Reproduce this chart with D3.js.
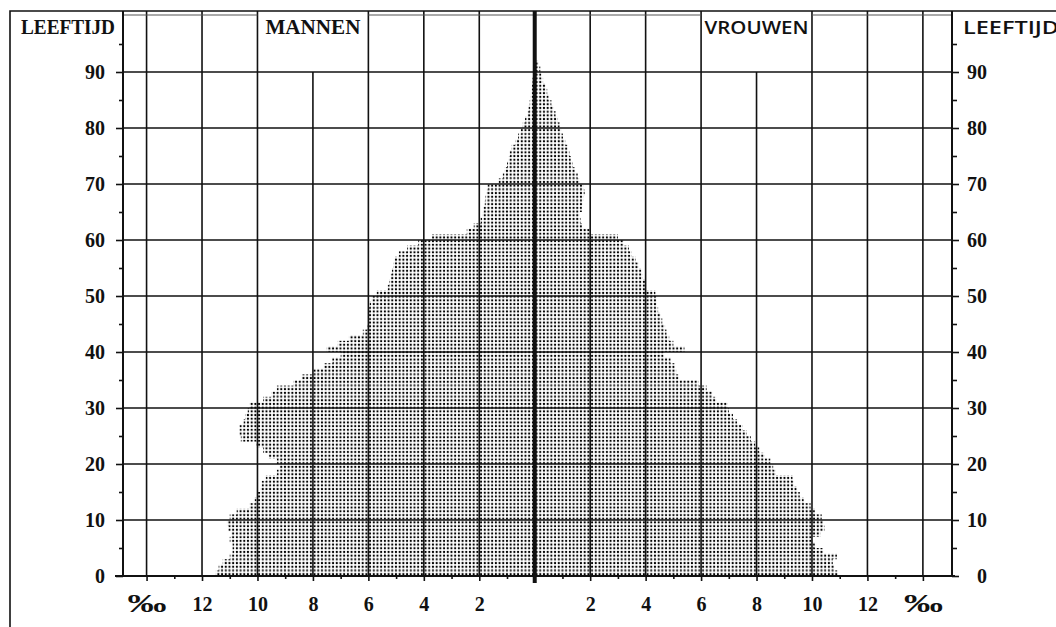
<!DOCTYPE html>
<html lang="nl">
<head>
<meta charset="utf-8">
<title>Leeftijdsopbouw mannen / vrouwen</title>
<script src="https://cdn.jsdelivr.net/npm/d3@7"></script>
<style>
  html, body { margin: 0; padding: 0; background: #fff; }
  svg { display: block; }
  .serif { font-family: "Liberation Serif", "DejaVu Serif", serif; font-weight: bold; fill: #111; }
  .sans { font-family: "Open Sans", "DejaVu Sans", sans-serif; font-weight: 600; fill: #111; }
</style>
</head>
<body>
<div id="chart"></div>
<script>
// Aandeel per leeftijdsjaar, in promille (index = leeftijd)
const MEN = [
    11.5, 11.4, 11.25, 11.0, 10.9, 10.9, 11.0, 10.95, 11.05, 11.1,
    11.0, 10.75, 10.3, 10.1, 10.0, 9.9, 9.85, 9.7, 9.3, 9.2,
    9.3, 9.6, 9.8, 10.05, 10.6, 10.65, 10.65, 10.5, 10.45, 10.35,
    10.3, 9.8, 9.5, 9.3, 8.7, 8.4, 8.0, 7.6, 7.3, 7.0,
    7.5, 7.1, 6.7, 6.2, 6.05, 6.0, 6.0, 6.0, 5.95, 5.9,
    5.7, 5.3, 5.25, 5.2, 5.15, 5.1, 5.05, 4.9, 4.6, 4.2,
    3.7, 2.45, 2.2, 1.95, 1.9, 1.85, 1.8, 1.78, 1.75, 1.7,
    1.3, 1.15, 1.08, 1.0, 0.95, 0.9, 0.83, 0.7, 0.6, 0.5,
    0.43, 0.35, 0.27, 0.22, 0.18, 0.15, 0.12, 0.1, 0.08, 0.06, 0.04
];
const WOMEN = [
    10.93, 10.8, 10.75, 10.9, 10.4, 10.1, 10.0, 10.3, 10.45, 10.4,
    10.35, 10.1, 9.95, 9.7, 9.56, 9.45, 9.35, 9.3, 8.7, 8.6,
    8.5, 8.3, 8.1, 7.95, 7.8, 7.65, 7.5, 7.3, 7.15, 7.0,
    6.97, 6.55, 6.4, 6.2, 5.9, 5.2, 5.1, 5.05, 4.9, 4.65,
    5.4, 5.0, 4.85, 4.75, 4.7, 4.6, 4.55, 4.45, 4.4, 4.4,
    4.35, 4.0, 4.0, 3.9, 3.85, 3.75, 3.65, 3.5, 3.4, 3.2,
    3.0, 2.0, 1.7, 1.65, 1.62, 1.7, 1.73, 1.75, 1.8, 1.75,
    1.62, 1.55, 1.45, 1.38, 1.3, 1.25, 1.2, 1.1, 1.02, 0.95,
    0.9, 0.84, 0.75, 0.68, 0.6, 0.5, 0.45, 0.4, 0.3, 0.24,
    0.2, 0.15
];

// Assen
const Y_TICKS = [0, 10, 20, 30, 40, 50, 60, 70, 80, 90];
const Y_MINOR = [5, 15, 25, 35, 45, 55, 65, 75, 85, 95];
const X_TICKS = [-14, -12, -10, -8, -6, -4, -2, 0, 2, 4, 6, 8, 10, 12, 14];
const X_LABELS = ['‰', '12', '10', '8', '6', '4', '2', '', '2', '4', '6', '8', '10', '12', '‰'];
const X_MINOR = [-13, -11, -9, -7, -5, -3, -1, 1, 3, 5, 7, 9, 11, 13];
// Kolommen waar de kopjes staan (daar stopt de rasterlijn bij 90)
const HEADER_COLUMNS = [-8, 8];

// Afmetingen
const WIDTH = 1056;
const HEIGHT = 627;
const PLOT = { left: 123, right: 952, top: 11, bottom: 576 };
const FRAME = { left: 10, top: 11 };
const INK = '#111';
const LABEL_SIZE = 20;

/**
 * Tekent de bevolkingspiramide
 */
function renderChart() {
    const svg = d3.select('#chart').append('svg')
        .attr('width', WIDTH)
        .attr('height', HEIGHT)
        .attr('viewBox', `0 0 ${WIDTH} ${HEIGHT}`);

    // Schalen
    const x = d3.scaleLinear().domain([-14.85, 15.05]).range([PLOT.left, PLOT.right]);
    const y = d3.scaleLinear().domain([0, 90]).range([PLOT.bottom, 72]);

    // Stippelraster voor de vulling
    const pattern = svg.append('defs').append('pattern')
        .attr('id', 'dots')
        .attr('patternUnits', 'userSpaceOnUse')
        .attr('x', x(0))
        .attr('y', PLOT.bottom)
        .attr('width', 3.7)
        .attr('height', 3.7);
    pattern.append('circle')
        .attr('cx', 1.85).attr('cy', 1.85).attr('r', 1.12)
        .attr('fill', '#000');

    // Balken mannen (links) en vrouwen (rechts)
    const bars = svg.append('g').attr('class', 'bars');
    bars.selectAll('.bar-men')
        .data(MEN)
        .enter()
        .append('rect')
        .attr('class', 'bar-men')
        .attr('x', d => x(-d))
        .attr('y', (d, i) => y(i + 1))
        .attr('width', d => x(0) - x(-d))
        .attr('height', (d, i) => y(i) - y(i + 1))
        .attr('fill', 'url(#dots)');
    bars.selectAll('.bar-women')
        .data(WOMEN)
        .enter()
        .append('rect')
        .attr('class', 'bar-women')
        .attr('x', x(0))
        .attr('y', (d, i) => y(i + 1))
        .attr('width', d => x(d) - x(0))
        .attr('height', (d, i) => y(i) - y(i + 1))
        .attr('fill', 'url(#dots)');

    // Raster
    const grid = svg.append('g').attr('class', 'grid')
        .attr('stroke', INK).attr('stroke-width', 1.6);
    grid.selectAll('.v')
        .data(X_TICKS.filter(d => d !== 0))
        .enter()
        .append('line')
        .attr('x1', d => x(d)).attr('x2', d => x(d))
        .attr('y1', d => HEADER_COLUMNS.includes(d) ? y(90) : PLOT.top)
        .attr('y2', PLOT.bottom);
    grid.selectAll('.h')
        .data(Y_TICKS.filter(d => d !== 0))
        .enter()
        .append('line')
        .attr('x1', PLOT.left).attr('x2', PLOT.right)
        .attr('y1', d => y(d)).attr('y2', d => y(d));

    // Dubbele lijn bovenaan, onderbroken bij de kopjes
    const topSegments = [[PLOT.left, x(-10)], [x(-6), x(6)], [x(10), PLOT.right]];
    svg.append('g')
        .selectAll('line')
        .data(topSegments)
        .enter()
        .append('line')
        .attr('x1', d => d[0]).attr('x2', d => d[1])
        .attr('y1', PLOT.top + 4).attr('y2', PLOT.top + 4)
        .attr('stroke', '#555').attr('stroke-width', 1);

    // Y-assen links en rechts
    const styleAxis = g => {
        g.select('.domain').remove();
        g.selectAll('line').attr('stroke', INK).attr('stroke-width', 1.6);
    };

    svg.append('g')
        .attr('transform', `translate(${PLOT.left},0)`)
        .call(d3.axisLeft(y).tickValues(Y_TICKS).tickSize(7).tickPadding(11))
        .call(styleAxis)
        .call(g => g.selectAll('text')
            .attr('class', 'serif')
            .attr('font-size', LABEL_SIZE)
            .attr('dy', '0.34em'));
    svg.append('g')
        .attr('transform', `translate(${PLOT.left},0)`)
        .call(d3.axisLeft(y).tickValues(Y_MINOR).tickSize(4).tickFormat(''))
        .call(styleAxis);

    svg.append('g')
        .attr('transform', `translate(${PLOT.right},0)`)
        .call(d3.axisRight(y).tickValues(Y_TICKS).tickSize(7))
        .call(styleAxis)
        .call(g => g.selectAll('text')
            .attr('class', 'serif')
            .attr('font-size', LABEL_SIZE)
            .attr('text-anchor', 'end')
            .attr('x', 35)
            .attr('dy', '0.34em'));
    svg.append('g')
        .attr('transform', `translate(${PLOT.right},0)`)
        .call(d3.axisRight(y).tickValues(Y_MINOR).tickSize(5).tickFormat(''))
        .call(styleAxis);

    // X-as onderaan
    svg.append('g')
        .attr('transform', `translate(0,${PLOT.bottom})`)
        .call(d3.axisBottom(x).tickValues(X_TICKS).tickSize(5)
            .tickFormat((d, i) => X_LABELS[i]))
        .call(styleAxis)
        .call(g => g.selectAll('text')
            .attr('class', 'serif')
            .attr('font-size', LABEL_SIZE)
            .attr('y', 35)
            .attr('dy', 0))
        .call(g => g.selectAll('text')
            .filter(d => Math.abs(d) === 14)
            .attr('font-size', 25)
            .attr('y', 36)
            .attr('textLength', 39)
            .attr('lengthAdjust', 'spacingAndGlyphs'));
    svg.append('g')
        .attr('transform', `translate(0,${PLOT.bottom})`)
        .call(d3.axisBottom(x).tickValues(X_MINOR).tickSize(3).tickFormat(''))
        .call(styleAxis);

    // Kaderlijnen van het diagram
    const frame = svg.append('g').attr('fill', 'none').attr('stroke', INK);
    frame.append('path')
        .attr('d', `M${FRAME.left},${HEIGHT} V${FRAME.top} H${WIDTH}`)
        .attr('stroke-width', 1.6);
    frame.append('line')
        .attr('x1', PLOT.left).attr('x2', PLOT.left)
        .attr('y1', PLOT.top).attr('y2', PLOT.bottom)
        .attr('stroke-width', 2);
    frame.append('line')
        .attr('x1', PLOT.right).attr('x2', PLOT.right)
        .attr('y1', PLOT.top).attr('y2', PLOT.bottom)
        .attr('stroke-width', 2);
    frame.append('line')
        .attr('x1', PLOT.left - 8).attr('x2', PLOT.right + 3)
        .attr('y1', PLOT.bottom).attr('y2', PLOT.bottom)
        .attr('stroke-width', 2.2);
    // Middenas (dik)
    frame.append('line')
        .attr('x1', x(0)).attr('x2', x(0))
        .attr('y1', PLOT.top).attr('y2', PLOT.bottom + 7)
        .attr('stroke-width', 4);

    // Kopjes
    svg.append('text')
        .attr('class', 'serif')
        .attr('x', 68).attr('y', 34)
        .attr('text-anchor', 'middle')
        .attr('font-size', 20)
        .attr('textLength', 94).attr('lengthAdjust', 'spacingAndGlyphs')
        .text('LEEFTIJD');
    svg.append('text')
        .attr('class', 'serif')
        .attr('x', x(-8)).attr('y', 34)
        .attr('text-anchor', 'middle')
        .attr('font-size', 20)
        .attr('textLength', 95).attr('lengthAdjust', 'spacingAndGlyphs')
        .text('MANNEN');
    svg.append('text')
        .attr('class', 'sans')
        .attr('x', x(8)).attr('y', 34)
        .attr('text-anchor', 'middle')
        .attr('font-size', 18)
        .attr('textLength', 104).attr('lengthAdjust', 'spacingAndGlyphs')
        .text('VROUWEN');
    svg.append('text')
        .attr('class', 'sans')
        .attr('x', 963).attr('y', 34)
        .attr('font-size', 18)
        .attr('textLength', 96).attr('lengthAdjust', 'spacingAndGlyphs')
        .text('LEEFTIJD');
}

document.addEventListener('DOMContentLoaded', renderChart);
</script>
</body>
</html>
